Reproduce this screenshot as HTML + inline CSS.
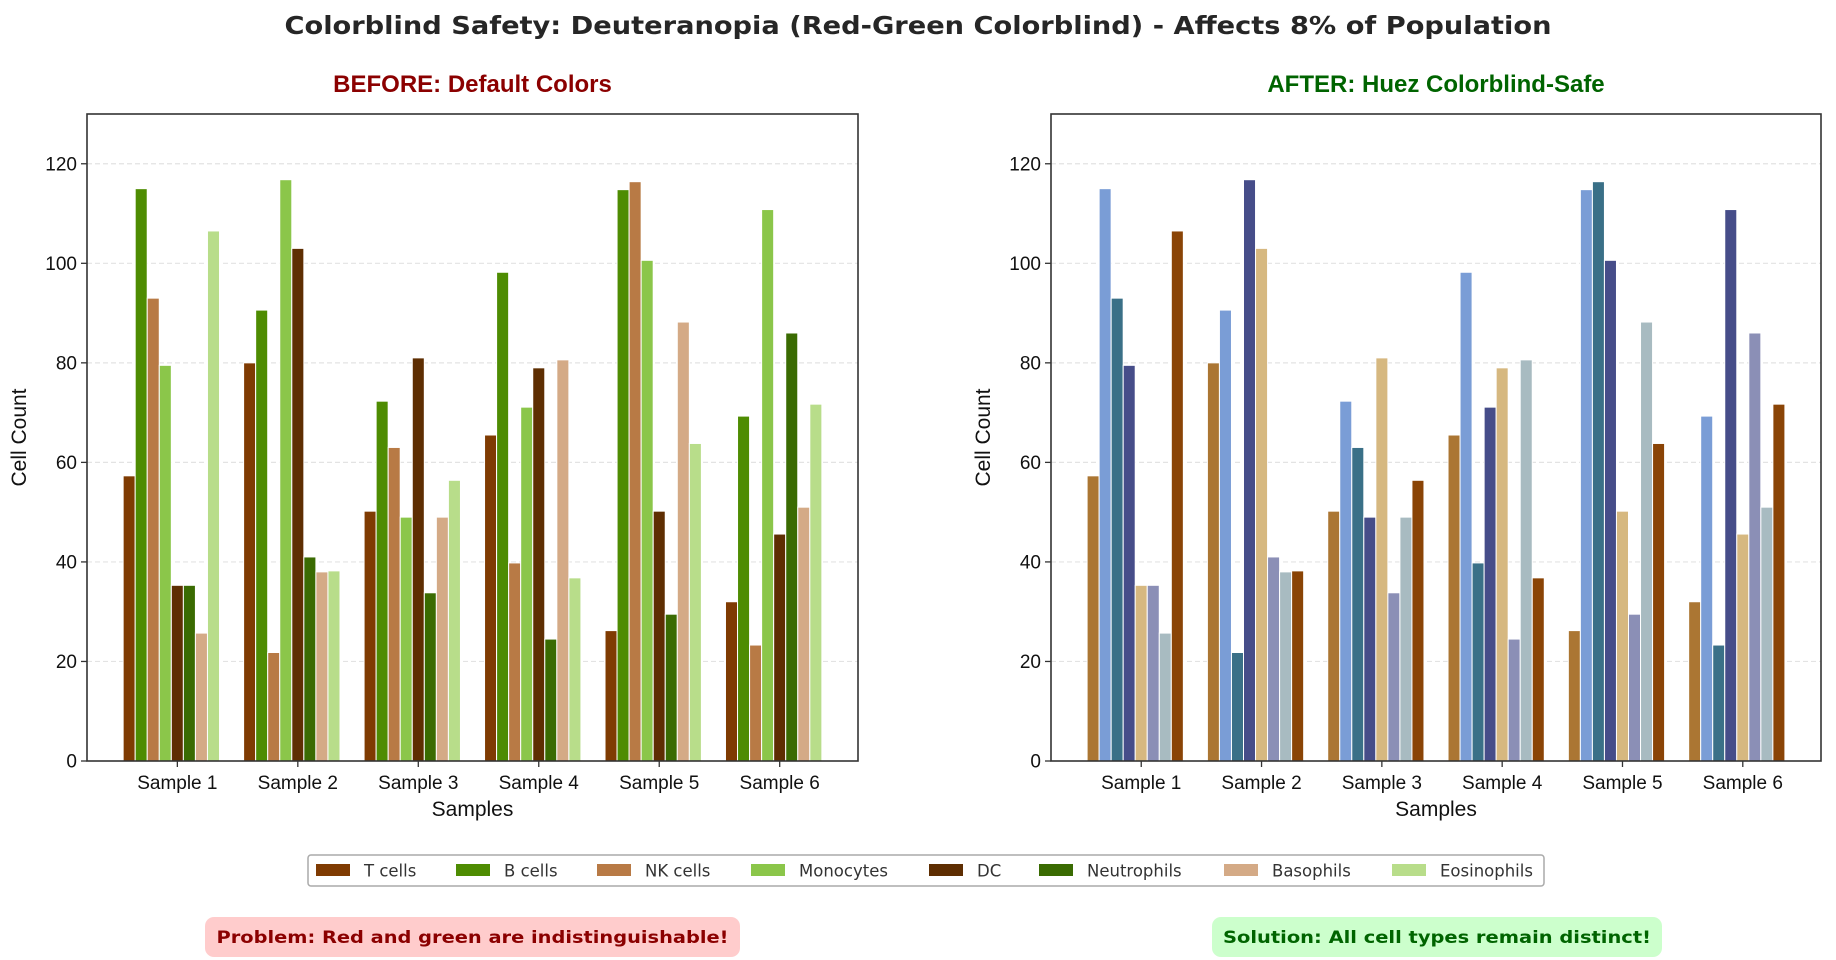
<!DOCTYPE html>
<html><head><meta charset="utf-8"><style>
body{margin:0;background:#fff}
svg{display:block}
</style></head><body>
<svg id="chart" width="1836" height="960" viewBox="0 0 1836 960" xmlns="http://www.w3.org/2000/svg">
<text x="918" y="34" text-anchor="middle" font-family="DejaVu Sans, sans-serif" font-weight="bold" font-size="25" fill="#262626" textLength="1267" lengthAdjust="spacingAndGlyphs">Colorblind Safety: Deuteranopia (Red-Green Colorblind) - Affects 8% of Population</text>
</svg>
<script>
const samples = ["Sample 1","Sample 2","Sample 3","Sample 4","Sample 5","Sample 6"];
const cellTypes = ["T cells","B cells","NK cells","Monocytes","DC","Neutrophils","Basophils","Eosinophils"];
const tCells = [57.3, 80.0, 50.2, 65.5, 26.2, 32.0];
const bCells = [115.0, 90.6, 72.3, 98.2, 114.8, 69.3];
const nkCells = [93.0, 21.8, 63.0, 39.8, 116.4, 23.3];
const monocytes = [79.5, 116.8, 49.0, 71.1, 100.6, 110.8];
const dcCells = [35.3, 103.0, 81.0, 79.0, 50.2, 45.6];
const neutrophils = [35.3, 41.0, 33.8, 24.5, 29.5, 86.0];
const basophils = [25.7, 38.0, 49.0, 80.6, 88.2, 51.0];
const eosinophils = [106.5, 38.2, 56.4, 36.8, 63.8, 71.7];
const yTicks = [0, 20, 40, 60, 80, 100, 120];

const series = [tCells,bCells,nkCells,monocytes,dcCells,neutrophils,basophils,eosinophils];
const beforeColors = ["#7f3b02","#4e8c02","#b87a45","#8bc64a","#5e2e02","#3a6b02","#d4aa86","#b8dd8a"];
const afterColors = ["#ab7633","#7a9dd6","#3a7087","#464d89","#d6b880","#8b8fb6","#a8bbc1","#8a4406"];
const NS = "http://www.w3.org/2000/svg";
const svg = document.getElementById("chart");
function mk(tag, attrs, parent){const e=document.createElementNS(NS,tag);for(const k in attrs)e.setAttribute(k,attrs[k]);(parent||svg).appendChild(e);return e;}

const plotTop = 114, plotBottom = 761, yMax = 130;
const xMin = -0.75, xMax = 5.65, barW = 0.1;
function drawPanel(x0, x1, colors, title, titleColor, key){
  const g = mk("g",{});
  
  
  const yS = v => plotBottom - (v / yMax) * (plotBottom - plotTop);
  const xS = v => x0 + (v - xMin) / (xMax - xMin) * (x1 - x0);
  yTicks.forEach(t => {
    if (t > 0) {
      const l = mk("line",{x1:x0,x2:x1,y1:yS(t),y2:yS(t),stroke:"#e3e3e3","stroke-width":1.2,"stroke-dasharray":"5,3"},g);
      
      
    }
    const tk = mk("line",{x1:x0-6,x2:x0,y1:yS(t),y2:yS(t),stroke:"#333","stroke-width":1.3},g);
    
    
    const tl = mk("text",{x:x0-10,y:yS(t)+6.5,"text-anchor":"end","font-family":"Liberation Sans, sans-serif","font-size":19,fill:"#111"},g);
    tl.textContent = t;
    
    
  });
  series.forEach((vals, j) => {
    vals.forEach((v, i) => {
      const c = i + (j - 4) * barW;
      const r = mk("rect",{x:xS(c - barW/2),y:yS(v),width:xS(barW)-xS(0),height:yS(0)-yS(v),fill:colors[j],stroke:"#fff","stroke-width":1},g);
      
      
    });
  });
  samples.forEach((s, i) => {
    const tk = mk("line",{x1:xS(i),x2:xS(i),y1:plotBottom,y2:plotBottom+6,stroke:"#333","stroke-width":1.3},g);
    
    
    const tl = mk("text",{x:xS(i),y:789,"text-anchor":"middle","font-family":"Liberation Sans, sans-serif","font-size":19,fill:"#111"},g);
    tl.textContent = s;
    
    
  });
  const frame = mk("rect",{x:x0,y:plotTop,width:x1-x0,height:plotBottom-plotTop,fill:"none",stroke:"#333","stroke-width":1.6},g);
  
  
  const xl = mk("text",{x:(x0+x1)/2,y:816,"text-anchor":"middle","font-family":"Liberation Sans, sans-serif","font-size":21,fill:"#111"},g);
  xl.textContent = "Samples";
  
  
  const yl = mk("text",{x:0,y:0,transform:`translate(${x0-61},${(plotTop+plotBottom)/2}) rotate(-90)`,"text-anchor":"middle","font-family":"Liberation Sans, sans-serif","font-size":21,fill:"#111"},g);
  yl.textContent = "Cell Count";
  
  
  const tt = mk("text",{x:(x0+x1)/2,y:92,"text-anchor":"middle","font-family":"Liberation Sans, sans-serif","font-weight":"bold","font-size":24,fill:titleColor},g);
  tt.textContent = title;
  
  
}
drawPanel(87, 858, beforeColors, "BEFORE: Default Colors", "#8b0000", "before");
drawPanel(1051, 1821, afterColors, "AFTER: Huez Colorblind-Safe", "#006400", "after");

const lg = mk("g",{});


const lbox = mk("rect",{x:308,y:855,width:1236,height:31,rx:3,fill:"#fff",stroke:"#aaa","stroke-width":1.5},lg);


const patchX = [316,456,597,751,929,1039,1224,1392];
cellTypes.forEach((n, j) => {
  const p = mk("rect",{x:patchX[j],y:864,width:34,height:12,fill:beforeColors[j]},lg);
  
  
  const t = mk("text",{x:patchX[j]+48,y:876.5,"font-family":"DejaVu Sans, sans-serif","font-size":16.5,fill:"#333"},lg);
  t.textContent = n;
  
  
});

const pb = mk("rect",{x:205,y:917,width:535,height:40,rx:9,fill:"#ffcccc"});


const pt = mk("text",{x:472.5,y:943,"text-anchor":"middle","font-family":"DejaVu Sans, sans-serif","font-weight":"bold","font-size":17,fill:"#8b0000",textLength:512,lengthAdjust:"spacingAndGlyphs"});
pt.textContent = "Problem: Red and green are indistinguishable!";


const sb = mk("rect",{x:1212,y:917,width:450,height:40,rx:9,fill:"#ccffcc"});


const st = mk("text",{x:1437,y:943,"text-anchor":"middle","font-family":"DejaVu Sans, sans-serif","font-weight":"bold","font-size":17,fill:"#006400",textLength:428,lengthAdjust:"spacingAndGlyphs"});
st.textContent = "Solution: All cell types remain distinct!";


</script>
</body></html>
